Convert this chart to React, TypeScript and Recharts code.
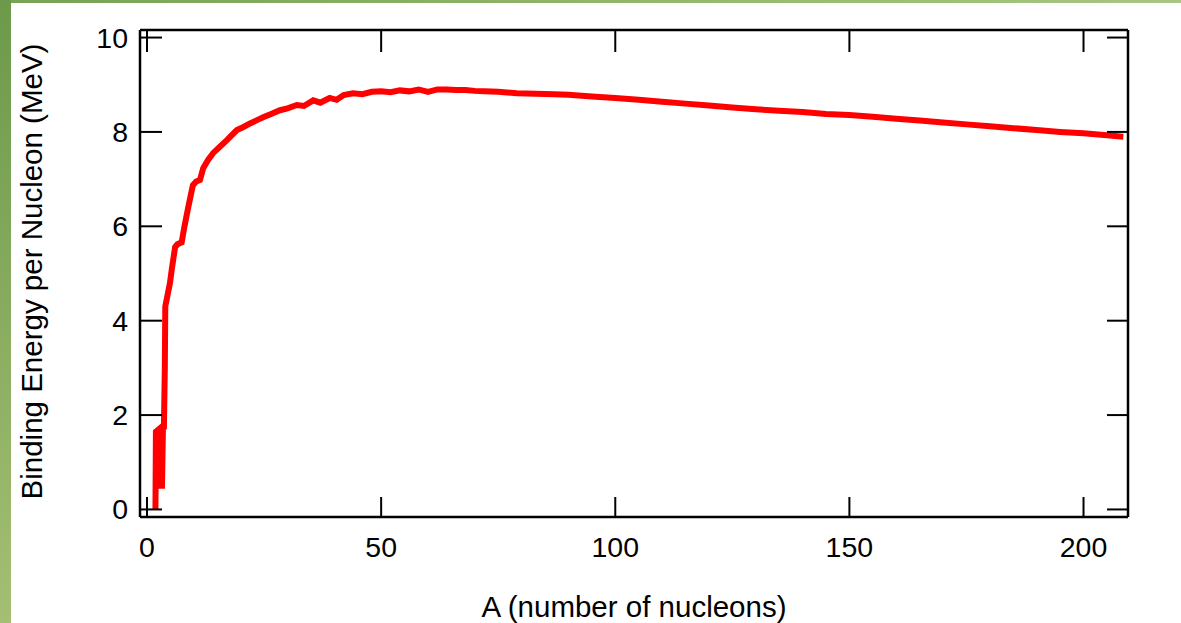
import React from 'react';
import { LineChart, Line, XAxis, YAxis } from 'recharts';

const massNumbers = [1.8, 1.9, 2.5, 2.8, 3.2, 3.4, 3.6, 3.8, 3.9, 4.3, 4.9, 5.3, 6.0, 6.5, 7.4, 8.0, 8.8, 9.8, 10.5, 11.3, 12, 13, 14.1, 15.5, 17, 18, 19.2, 20.5, 22, 23.5, 24.8, 26.5, 28.4, 30, 32, 33.5, 35.5, 37, 39, 40.5, 42, 44, 46, 48, 50, 52, 54, 56, 58, 60, 62, 64, 66, 68, 70, 72, 75, 79, 83, 87, 90, 95, 100, 105, 110, 115, 120, 125, 130, 135, 140, 145, 150, 155, 160, 165, 170, 175, 180, 185, 190, 195, 200, 205, 208.5];
const bindingEnergy = [0, 1.65, 1.7, 0.5, 0.5, 1.75, 1.7, 3.0, 4.3, 4.5, 4.8, 5.1, 5.56, 5.62, 5.66, 6.0, 6.4, 6.87, 6.95, 6.98, 7.23, 7.4, 7.55, 7.68, 7.82, 7.92, 8.04, 8.1, 8.18, 8.25, 8.31, 8.38, 8.46, 8.5, 8.57, 8.55, 8.67, 8.62, 8.72, 8.68, 8.78, 8.82, 8.8, 8.85, 8.86, 8.84, 8.88, 8.86, 8.9, 8.85, 8.9, 8.9, 8.89, 8.89, 8.87, 8.86, 8.85, 8.82, 8.81, 8.8, 8.79, 8.75, 8.72, 8.68, 8.64, 8.6, 8.56, 8.52, 8.48, 8.45, 8.42, 8.38, 8.36, 8.32, 8.28, 8.24, 8.2, 8.16, 8.12, 8.08, 8.04, 8.0, 7.97, 7.93, 7.9];
const xTicks = [0, 50, 100, 150, 200];
const yTicks = [0, 2, 4, 6, 8, 10];
const xTitle = 'A (number of nucleons)';
const yTitle = 'Binding Energy per Nucleon (MeV)';

const data = massNumbers.map((a, i) => ({ a, be: bindingEnergy[i] }));

const FONT = '"Liberation Sans", Arial, Helvetica, sans-serif';
const TXT = '#000';
const TICK_FS = 28.5;
const TITLE_FS = 29.5;

const BottomTick = (p: any) => (
  <g>
    <line x1={p.x} y1={p.y} x2={p.x} y2={p.y - 20} stroke="#000" strokeWidth={2} />
    <text x={p.x} y={p.y + 40} textAnchor="middle" fontSize={TICK_FS} fontFamily={FONT} fill={TXT}>
      {p.payload.value}
    </text>
  </g>
);
const TopTick = (p: any) => (
  <line x1={p.x} y1={p.y} x2={p.x} y2={p.y + 22} stroke="#000" strokeWidth={2} />
);
const LeftTick = (p: any) => (
  <g>
    <line x1={p.x} y1={p.y} x2={p.x + 22} y2={p.y} stroke="#000" strokeWidth={2} />
    <text x={p.x - 12} y={p.y + 10} textAnchor="end" fontSize={TICK_FS} fontFamily={FONT} fill={TXT}>
      {p.payload.value}
    </text>
  </g>
);
const RightTick = (p: any) => (
  <line x1={p.x} y1={p.y} x2={p.x - 21} y2={p.y} stroke="#000" strokeWidth={2} />
);

const XTitle = (p: any) => {
  const vb = p.viewBox || { x: 140, y: 517, width: 988, height: 106 };
  return (
    <text x={vb.x + vb.width / 2} y={vb.y + 100} textAnchor="middle" fontSize={TITLE_FS} fontFamily={FONT} fill={TXT}>
      {xTitle}
    </text>
  );
};
const YTitle = (p: any) => {
  const vb = p.viewBox || { x: 0, y: 30, width: 140, height: 487 };
  const cx = vb.x + 42;
  const cy = vb.y + vb.height / 2 - 2;
  return (
    <text x={cx} y={cy} transform={`rotate(-90 ${cx} ${cy})`} textAnchor="middle" fontSize={TITLE_FS} fontFamily={FONT} fill={TXT}>
      {yTitle}
    </text>
  );
};

export default function App() {
  return (
    <div style={{ position: 'absolute', left: 0, top: 0, width: 1181, height: 623, background: '#fff', overflow: 'hidden' }}>
      <div style={{ position: 'absolute', left: 0, top: 0, width: 1181, height: 3, background: 'linear-gradient(to right, #78a352, #a9c682)' }} />
      <div style={{ position: 'absolute', left: 0, top: 0, width: 11, height: 623, background: 'linear-gradient(to bottom, #6c994a, #a4bf74)' }} />
      <div style={{ position: 'absolute', left: 0, top: 0 }}>
        <LineChart width={1181} height={623} data={data} margin={{ top: 29, right: 52, bottom: 0, left: 0 }}>
          <XAxis
            xAxisId="b"
            dataKey="a"
            type="number"
            domain={[-1.5, 209.5]}
            ticks={xTicks}
            orientation="bottom"
            height={106}
            tickSize={0}
            tickMargin={0}
            tickLine={false}
            axisLine={{ stroke: '#000', strokeWidth: 2.5 }}
            tick={<BottomTick />}
            interval={0}
            allowDataOverflow
            label={XTitle}
          />
          <XAxis
            xAxisId="t"
            dataKey="a"
            type="number"
            domain={[-1.5, 209.5]}
            ticks={xTicks}
            orientation="top"
            height={1}
            tickSize={0}
            tickMargin={0}
            tickLine={false}
            axisLine={{ stroke: '#000', strokeWidth: 2.5 }}
            tick={<TopTick />}
            interval={0}
            allowDataOverflow
          />
          <YAxis
            yAxisId="l"
            type="number"
            domain={[-0.16, 10.16]}
            ticks={yTicks}
            orientation="left"
            width={140}
            tickSize={0}
            tickMargin={0}
            tickLine={false}
            axisLine={{ stroke: '#000', strokeWidth: 2.5 }}
            tick={<LeftTick />}
            interval={0}
            allowDataOverflow
            label={YTitle}
          />
          <YAxis
            yAxisId="r"
            type="number"
            domain={[-0.16, 10.16]}
            ticks={yTicks}
            orientation="right"
            width={1}
            tickSize={0}
            tickMargin={0}
            tickLine={false}
            axisLine={{ stroke: '#000', strokeWidth: 2.5 }}
            tick={<RightTick />}
            interval={0}
            allowDataOverflow
          />
          <Line
            xAxisId="b"
            yAxisId="l"
            dataKey="be"
            type="linear"
            stroke="#ff0000"
            strokeWidth={6}
            dot={false}
            activeDot={false}
            strokeLinejoin="miter"
            isAnimationActive={false}
          />
        </LineChart>
      </div>
    </div>
  );
}
